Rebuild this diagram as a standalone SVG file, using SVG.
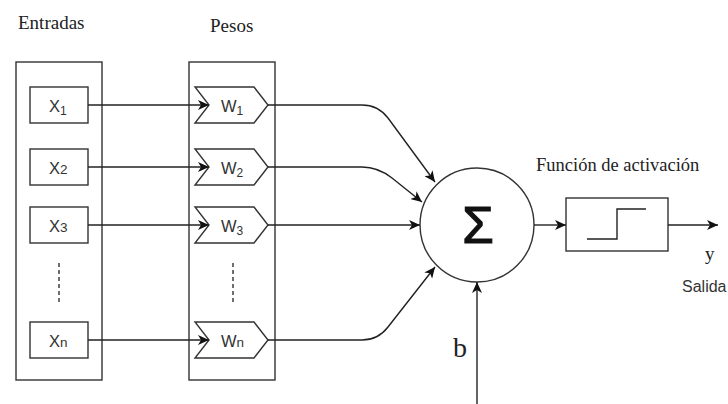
<svg xmlns="http://www.w3.org/2000/svg" width="728" height="404" viewBox="0 0 728 404">
<style>
.box{fill:#fff;stroke:#333;stroke-width:1.4}
.ln{fill:none;stroke:#222;stroke-width:1.4}
.dash{fill:none;stroke:#333;stroke-width:1.4;stroke-dasharray:4 3}
.serif{font-family:"Liberation Serif","Times New Roman",serif;fill:#222}
.sans{font-family:"Liberation Sans",Arial,sans-serif;fill:#333}
</style>
<defs>
<marker id="arr" markerUnits="userSpaceOnUse" markerWidth="12" markerHeight="10" refX="11" refY="5" orient="auto" viewBox="0 0 12 10">
<path d="M0,0 L11,5 L0,10 L3,5 Z" fill="#111"/>
</marker>
</defs>
<rect width="728" height="404" fill="#fff"/>

<text class="serif" x="18" y="29" font-size="19">Entradas</text>
<text class="serif" x="210" y="32" font-size="19">Pesos</text>
<text class="serif" x="536" y="171" font-size="18.5">Función de activación</text>

<g id="entradas">
<rect class="box" x="16" y="62" width="86" height="318"/>
</g>
<g id="pesos">
<rect class="box" x="189" y="62" width="86" height="318"/>
</g>

<g id="x1"><rect class="box" x="30" y="87" width="58" height="36"/>
<text class="sans" x="49" y="112" font-size="16.5">X<tspan font-size="12" dy="3">1</tspan></text></g>
<g id="x2"><rect class="box" x="30" y="149" width="58" height="36"/>
<text class="sans" x="49" y="174" font-size="16.5">X<tspan font-size="13.5">2</tspan></text></g>
<g id="x3"><rect class="box" x="30" y="207" width="58" height="36"/>
<text class="sans" x="49" y="232" font-size="16.5">X<tspan font-size="13.5">3</tspan></text></g>
<g id="xdots"><line class="dash" x1="59" y1="263" x2="59" y2="305"/></g>
<g id="xn"><rect class="box" x="30" y="322" width="58" height="36"/>
<text class="sans" x="49" y="347" font-size="16.5">X<tspan font-size="13.5">n</tspan></text></g>

<g id="w1"><path class="box" d="M195,87 H254 L268,105 L254,123 H195 L209,105 Z"/>
<text class="sans" x="221" y="112" font-size="16.5">W<tspan font-size="12" dy="3">1</tspan></text></g>
<g id="w2"><path class="box" d="M195,149 H254 L268,167 L254,185 H195 L209,167 Z"/>
<text class="sans" x="221" y="174" font-size="16.5">W<tspan font-size="12" dy="3">2</tspan></text></g>
<g id="w3"><path class="box" d="M195,207 H254 L268,225 L254,243 H195 L209,225 Z"/>
<text class="sans" x="221" y="232" font-size="16.5">W<tspan font-size="12" dy="3">3</tspan></text></g>
<g id="wdots"><line class="dash" x1="233" y1="263" x2="233" y2="305"/></g>
<g id="wn"><path class="box" d="M195,322 H254 L268,340 L254,358 H195 L209,340 Z"/>
<text class="sans" x="221" y="347" font-size="16.5">W<tspan font-size="13.5">n</tspan></text></g>

<g id="suma">
<circle class="box" cx="477" cy="225" r="57"/>
<text class="sans" x="478" y="243" font-size="51" text-anchor="middle" style="fill:#111;stroke:#111;stroke-width:1.2">Σ</text>
</g>

<g id="activacion">
<rect class="box" x="566" y="198" width="102" height="53"/>
<path class="ln" d="M587,239 H617 V209 H646"/>
</g>

<g id="connectors">
<line class="ln" x1="88" y1="105" x2="209" y2="105" marker-end="url(#arr)"/>
<line class="ln" x1="88" y1="167" x2="209" y2="167" marker-end="url(#arr)"/>
<line class="ln" x1="88" y1="225" x2="209" y2="225" marker-end="url(#arr)"/>
<line class="ln" x1="88" y1="340" x2="209" y2="340" marker-end="url(#arr)"/>
<path class="ln" d="M268,105 H362 Q378,105 388,118 L435,182" marker-end="url(#arr)"/>
<path class="ln" d="M268,167 H362 Q378,167 392,178 L422,202" marker-end="url(#arr)"/>
<line class="ln" x1="268" y1="225" x2="420" y2="225" marker-end="url(#arr)"/>
<path class="ln" d="M268,340 H362 Q378,340 388,327 L435,267" marker-end="url(#arr)"/>
<line class="ln" x1="477" y1="404" x2="477" y2="282" marker-end="url(#arr)"/>
<line class="ln" x1="534" y1="225" x2="566" y2="225" marker-end="url(#arr)"/>
<line class="ln" x1="668" y1="225" x2="718" y2="225" marker-end="url(#arr)"/>
</g>

<text class="serif" x="453" y="357" font-size="28">b</text>
<text class="serif" x="705" y="260" font-size="19">y</text>
<text class="sans" x="682" y="292" font-size="16">Salida</text>
</svg>
